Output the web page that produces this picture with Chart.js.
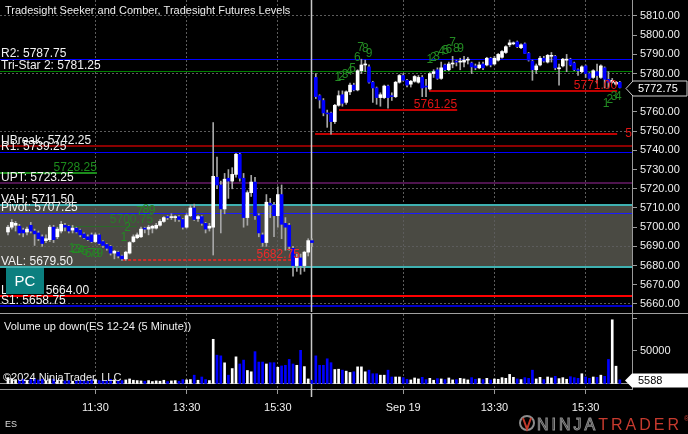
<!DOCTYPE html>
<html>
<head>
<meta charset="utf-8">
<title>ES 12-24 (5 Minute)</title>
<script src="https://cdn.jsdelivr.net/npm/chart.js"></script>
<style>
  html, body { margin: 0; padding: 0; background: #000; }
  #wrap { position: relative; width: 688px; height: 434px; overflow: hidden; background: #000; }
  #priceChart { position: absolute; left: 0; top: 0; }
  #volumeChart { position: absolute; left: 0; top: 313px; }
</style>
</head>
<body>
<div id="wrap">
  <canvas id="priceChart" width="688" height="313"></canvas>
  <canvas id="volumeChart" width="688" height="121"></canvas>
</div>
<script>
const FONT = '"Liberation Sans", Arial, sans-serif';

// 5 minute bars, ES 12-24. Index 0 = 9:35 Sep 18, index 81 = 9:35 Sep 19
const opens = [
  5697.5, 5700, 5701, 5700.5, 5698.5, 5697.5, 5701, 5698, 5697, 5695,
  5693, 5693.5, 5700, 5695, 5698, 5701, 5700.5, 5698.5, 5699.5, 5698.5,
  5696.5, 5695, 5696, 5692.5, 5696, 5692.5, 5691, 5690, 5686.5, 5687,
  5685, 5683.5, 5686.5, 5692.5, 5694.5, 5695, 5699.5, 5699, 5699.5, 5699.5,
  5701, 5703, 5705.5, 5705, 5705, 5705.5, 5704, 5700, 5706, 5710,
  5704.5, 5705.5, 5702, 5699.5, 5700, 5726, 5722, 5709.5, 5725.5, 5724,
  5727.5, 5738, 5725.5, 5705, 5718, 5723.5, 5706, 5696, 5692, 5712.5,
  5711.5, 5706, 5717, 5702, 5701, 5689, 5680, 5684, 5680, 5687,
  5693,
  5778, 5768.5, 5766, 5759.5, 5759.5, 5755, 5763.5, 5769, 5765, 5770.5,
  5774, 5771.5, 5781.5, 5784.5, 5783.5, 5775.5, 5772.5, 5767.5, 5767.5, 5773.5,
  5768.5, 5768, 5775.5, 5779, 5776.5, 5774.5, 5776, 5775.5, 5778, 5773.5,
  5772, 5780, 5782, 5777.5, 5784.5, 5782, 5785, 5786.5, 5786, 5786,
  5787, 5785.5, 5784, 5783, 5785, 5784.5, 5788, 5785, 5787, 5788.5,
  5791, 5795, 5795.5, 5796.5, 5793.5, 5795.5, 5790.5, 5786.5, 5782, 5784.5,
  5788, 5786, 5789, 5789, 5782.5, 5784, 5787, 5787.5, 5785.5, 5782,
  5781, 5784, 5780, 5778, 5781, 5778, 5783, 5777, 5775.5, 5774.5,
  5775.5,
];
const highs = [
  5701, 5704, 5703, 5701.5, 5699.5, 5700, 5702.5, 5699, 5698, 5696,
  5696, 5701, 5701, 5700, 5703, 5702, 5701, 5701, 5700, 5699,
  5697, 5696, 5697, 5697, 5696.5, 5693, 5691.5, 5690.5, 5688, 5687.5,
  5685.5, 5687.5, 5692.5, 5696, 5697, 5700, 5700, 5701, 5701, 5702,
  5704, 5705.5, 5706, 5707, 5706, 5706, 5704.5, 5707, 5711.5, 5712,
  5706, 5706, 5702.5, 5702, 5754.5, 5736.5, 5724, 5728, 5730, 5731,
  5738.5, 5738.5, 5728, 5719, 5727, 5726, 5707, 5697, 5717, 5715,
  5713, 5721, 5722, 5705, 5702, 5690, 5686, 5686, 5687.5, 5694,
  5694,
  5780, 5769, 5767, 5761, 5760, 5764, 5771, 5771, 5771, 5775,
  5775, 5782, 5787.5, 5787, 5784.5, 5776, 5773, 5770, 5774, 5774,
  5770, 5776, 5779.5, 5780, 5777, 5776.5, 5779, 5779, 5779, 5777,
  5780.5, 5782, 5783, 5786, 5785, 5786, 5789, 5787, 5788, 5789,
  5788.5, 5786, 5785, 5786, 5786, 5788.5, 5788.5, 5789, 5790.5, 5792,
  5794.5, 5797.5, 5796.5, 5797, 5795.5, 5796, 5791, 5787, 5785, 5789,
  5789, 5790, 5791, 5789.5, 5785, 5788, 5790, 5788, 5786, 5782.5,
  5784, 5784.5, 5780.5, 5782, 5785, 5784.5, 5783.5, 5781, 5777.5, 5776,
  5776,
];
const lows = [
  5696, 5699, 5698, 5696, 5695, 5696, 5697, 5690.5, 5693, 5690,
  5692, 5692.5, 5692, 5694, 5697, 5698, 5697, 5697, 5697, 5695,
  5694, 5693, 5692, 5692, 5691, 5689.5, 5688, 5685.5, 5683.5, 5684,
  5682.75, 5682.75, 5686, 5692, 5694, 5694.5, 5697, 5696, 5697, 5699,
  5700.5, 5702.5, 5704, 5704, 5703, 5703, 5699, 5699.5, 5705.5, 5703.5,
  5703, 5701, 5697, 5698, 5685.5, 5720, 5697, 5707, 5715, 5720,
  5726, 5724, 5700, 5701, 5716, 5704, 5695, 5690, 5690, 5705,
  5695, 5700, 5694, 5688, 5688, 5674.5, 5677, 5675.5, 5677, 5685,
  5690,
  5767, 5762, 5758, 5752, 5748.5, 5754, 5763, 5763, 5764, 5769,
  5771, 5771, 5780, 5781, 5775, 5765, 5764, 5763, 5767, 5762,
  5766, 5767.5, 5775, 5776, 5773, 5773, 5775.5, 5775, 5768, 5768,
  5771.5, 5778, 5777, 5777, 5781.5, 5781.5, 5783, 5784, 5782, 5783.5,
  5785, 5780, 5782, 5782.5, 5782, 5784, 5783.5, 5784.5, 5786.5, 5788,
  5790.5, 5794, 5795, 5793.5, 5793, 5790.5, 5786.5, 5776.5, 5780, 5784,
  5786, 5785.5, 5786, 5782, 5774, 5783.5, 5781, 5784, 5781.5, 5779,
  5780.5, 5778, 5777, 5777.5, 5775, 5777.5, 5772.5, 5772.5, 5775, 5774,
  5772.5,
];
const closes = [
  5700, 5702.5, 5702, 5697, 5697, 5699, 5698, 5696.5, 5694, 5691.5,
  5694, 5700, 5693.5, 5699, 5701.5, 5700, 5698, 5699.5, 5697.5, 5696,
  5694.5, 5693.5, 5692.5, 5696, 5691.5, 5690.5, 5689, 5686.5, 5687.5, 5685,
  5683.5, 5687, 5692, 5695, 5696, 5699, 5699, 5700, 5700.5, 5701,
  5703, 5705, 5705, 5705.5, 5705.5, 5704, 5700, 5706, 5710, 5704,
  5705.5, 5702, 5699, 5700.5, 5726.5, 5722, 5709.5, 5725, 5724, 5727.5,
  5738, 5725.5, 5705, 5718, 5723.5, 5706, 5697, 5692, 5713, 5711.5,
  5706, 5717, 5701.5, 5700, 5690, 5680, 5684, 5680, 5687, 5693,
  5692,
  5768, 5766.25, 5759.5, 5759, 5755, 5763.5, 5768.5, 5764.5, 5770.5, 5774,
  5771.5, 5781.5, 5784.5, 5785, 5775.5, 5772.5, 5767.5, 5769, 5773.5, 5767.5,
  5768, 5775.5, 5779, 5776.5, 5774, 5776, 5778.5, 5778, 5772.5, 5773,
  5780, 5781, 5777.5, 5783, 5782, 5785, 5785.5, 5786, 5786.5, 5787,
  5787.5, 5783.5, 5783, 5784.5, 5783, 5788, 5784.5, 5788, 5790, 5791.5,
  5794, 5796, 5796, 5794, 5795, 5790.5, 5787, 5782, 5784, 5788,
  5786.5, 5789.5, 5789.5, 5783, 5783, 5787.5, 5787.5, 5784.5, 5782, 5781.5,
  5783.5, 5780, 5777.5, 5781.5, 5779, 5784, 5777, 5775.5, 5776.5, 5775.5,
  5772.75,
];
const volumes = [
  9000, 7500, 6000, 5500, 6500, 5000, 6000, 7000, 5500, 6500,
  4500, 7000, 6500, 5000, 5500, 4000, 4500, 3500, 4000, 5000,
  4500, 3500, 5500, 6000, 4500, 5000, 4000, 6500, 5500, 4000,
  4500, 5500, 7000, 5000, 4500, 4000, 3500, 4500, 3000, 4000,
  3500, 5000, 3000, 4000, 4500, 3500, 6000, 5500, 6000, 12800,
  5000, 10000, 6000, 4500, 68000, 43600, 42500, 31800, 12800, 23000,
  41000, 30000, 36000, 20000, 18000, 49000, 33000, 33000, 30000, 32000,
  32000, 25000, 27000, 28000, 37000, 30000, 28000, 51000, 26000, 7000,
  5000,
  42500, 28000, 28000, 38000, 32000, 21500, 22000, 20500, 19000, 17000,
  18000, 25600, 25600, 18000, 20500, 15000, 15000, 12800, 12800, 20500,
  10000, 10000, 10000, 9000, 6500, 5500, 8500, 7000, 9500, 6000,
  8000, 5000, 7500, 7000, 6000, 8500, 5500, 6000, 8000, 7000,
  5500, 9000, 6500, 7500, 6000, 8000, 5500, 7000, 6500, 9000,
  8000, 14000, 9500, 7000, 6000, 9000, 8000, 20500, 7000, 9500,
  6000, 10000, 8500, 11000, 7500, 9000, 6500, 10500, 9000, 8000,
  15000, 10000, 8000, 10000, 9500, 12800, 11000, 37000, 98000, 26600,
  5588,
];

// axis ticks
const timeTickIndex = [23, 47, 71, 104, 128, 152];
const timeTickLabels = ["11:30", "13:30", "15:30", "Sep 19", "13:30", "15:30"];
const priceTicks = [5660, 5670, 5680, 5690, 5700, 5710, 5720, 5730, 5740, 5750, 5760, 5770, 5780, 5790, 5800, 5810];
const volumeTicks = [50000, 100000];
const sessionBreak = 79.8;
const lastPrice = 5772.75;
const lastVolume = 5588;

// Tradesight futures levels
const levelNames = ["R2", "Tri-Star 2", "UBreak", "R1", "UPT", "VAH", "Pivot", "VAL", "LBreak", "S1"];
const levelValues = [5787.75, 5781.25, 5742.25, 5739.25, 5723.25, 5711.5, 5707.25, 5679.5, 5664.0, 5658.75];

// Seeker / Comber swing levels, with the bars they run between
const swingValues = [5761.25, 5771.0, 5748.5, 5682.75, 5728.25, 5700.75];
const swingFrom = [87.1, 110.8, 80.8, 30.3, -2.1, 13.2];
const swingTo = [118.2, 160.3, 160.3, 76.8, 23.4, 33.9];

// styles (kept apart from the data)
const levelStyle = {
  "R2": { color: "#0000ff", width: 1 },
  "Tri-Star 2": { color: "#008000", width: 1 },
  "UBreak": { color: "#8b0000", width: 2 },
  "R1": { color: "#0000ff", width: 1 },
  "UPT": { color: "#4e144e", width: 2 },
  "VAH": { color: "#3fb1b1", width: 2 },
  "Pivot": { color: "#1a1aff", width: 1 },
  "VAL": { color: "#3fb1b1", width: 2 },
  "LBreak": { color: "#ff0000", width: 2 },
  "S1": { color: "#0000c8", width: 2 },
};
const swingStyle = [
  { line: "#c00000", text: "#e01414", width: 2, dash: [], label: "right" },
  { line: "#c00000", text: "#e01414", width: 2, dash: [], label: "right" },
  { line: "#c00000", text: "#e01414", width: 2, dash: [], label: "after" },
  { line: "#ff2020", text: "#ee2a2a", width: 1.5, dash: [3, 2], label: "right" },
  { line: "#1c8c1c", text: "#1c8c1c", width: 2, dash: [], label: "right" },
  { line: "#2a6a2a", text: "#2a7a2a", width: 1, dash: [], label: "mid" },
];

// Seeker counts [bar, price, digit]
const seekerDigits = [
  [16.8, 5689, "1"], [17.6, 5688.5, "2"], [18.5, 5688.1, "3"], [19.2, 5687.6, "4"], [20.3, 5687.3, "5"],
  [21.1, 5686.4, "6"], [22.2, 5686, "7"], [23.2, 5686, "8"], [24.2, 5686.4, "9"],
  [30.5, 5694.4, "1"], [31.5, 5699.6, "2"], [34.7, 5708, "7"], [36.3, 5709, "8"], [37.9, 5708.5, "9"],
  [86.8, 5777.7, "1"], [87.8, 5778.4, "2"], [88.7, 5779.3, "3"], [89.8, 5781, "4"], [90.7, 5782.8, "5"],
  [91.9, 5788.3, "6"], [92.8, 5793.5, "7"], [94, 5792.8, "8"], [95, 5790.6, "9"],
  [111, 5787, "1"], [111.9, 5788.3, "2"], [112.8, 5788.8, "3"], [114.1, 5791.4, "4"], [115.2, 5791.8, "5"],
  [116, 5792.3, "6"], [117, 5796.3, "7"], [118, 5792.8, "8"], [119.1, 5793.2, "9"],
  [157.4, 5764.5, "1"], [158.4, 5766.25, "2"], [159.5, 5768, "3"], [160.6, 5768, "4"],
];

const X_MIN = -2.1;
const X_MAX = 164.2;
const UP = "#ffffff";
const DOWN = "#0000ff";

Chart.defaults.font.family = FONT;
Chart.defaults.color = "#eeeeee";

const barColors = opens.map((o, i) => (closes[i] >= o ? UP : DOWN));

function hline(ctx, x1, x2, y, color, width, dash) {
  const yy = width % 2 === 1 ? Math.round(y) + 0.5 : Math.round(y);
  ctx.strokeStyle = color;
  ctx.lineWidth = width;
  ctx.setLineDash(dash || []);
  ctx.beginPath();
  ctx.moveTo(x1, yy);
  ctx.lineTo(x2, yy);
  ctx.stroke();
  ctx.setLineDash([]);
}

function text(ctx, s, x, y, color, size, align, baseline) {
  ctx.font = size + "px " + FONT;
  ctx.fillStyle = color;
  ctx.textAlign = align || "left";
  ctx.textBaseline = baseline || "alphabetic";
  ctx.fillText(s, x, y);
}

function clipArea(ctx, a) {
  ctx.beginPath();
  ctx.rect(a.left, a.top, a.right - a.left, a.bottom - a.top);
  ctx.clip();
}

// levels, value area, labels and markers for the price panel
const priceOverlay = {
  id: "priceOverlay",
  beforeDraw(chart) {
    const { ctx, chartArea: a, scales: { y } } = chart;
    const top = y.getPixelForValue(levelValues[levelNames.indexOf("VAH")]);
    const bottom = y.getPixelForValue(levelValues[levelNames.indexOf("VAL")]);
    ctx.save();
    ctx.fillStyle = "#4a4a43";
    ctx.fillRect(a.left, top, a.right - a.left, bottom - top);
    ctx.restore();
  },
  beforeDatasetsDraw(chart) {
    const { ctx, chartArea: a, scales: { x, y } } = chart;
    ctx.save();
    clipArea(ctx, a);
    levelNames.forEach((name, k) => {
      const st = levelStyle[name];
      hline(ctx, a.left, a.right, y.getPixelForValue(levelValues[k]), st.color, st.width);
    });
    swingValues.forEach((v, k) => {
      const st = swingStyle[k];
      hline(ctx, x.getPixelForValue(swingFrom[k]), x.getPixelForValue(swingTo[k]), y.getPixelForValue(v), st.line, st.width, st.dash);
    });
    // session break
    const sx = Math.round(x.getPixelForValue(sessionBreak)) + 0.5;
    ctx.strokeStyle = "#c8c8c8";
    ctx.lineWidth = 1.5;
    ctx.beginPath();
    ctx.moveTo(sx, a.top);
    ctx.lineTo(sx, a.bottom);
    ctx.stroke();
    ctx.restore();
  },
  afterDatasetsDraw(chart) {
    const { ctx, chartArea: a, scales: { x, y } } = chart;
    ctx.save();
    clipArea(ctx, a);
    // level labels sit on top of their lines
    levelNames.forEach((name, k) => {
      const py = y.getPixelForValue(levelValues[k]);
      text(ctx, name + ": " + levelValues[k].toFixed(2), a.left + 1, py - 2, "#f2f2f2", 12);
    });
    swingValues.forEach((v, k) => {
      const st = swingStyle[k];
      const py = y.getPixelForValue(v);
      if (st.label === "right") {
        text(ctx, v.toFixed(2), x.getPixelForValue(swingTo[k]), py - 2, st.text, 12, "right");
      } else if (st.label === "after") {
        text(ctx, v.toFixed(2), x.getPixelForValue(swingTo[k]) + 8, py, st.text, 12, "left", "middle");
      } else {
        text(ctx, v.toFixed(2), x.getPixelForValue(26.8), py - 3, st.text, 12, "left");
      }
    });
    seekerDigits.forEach(([i, p, d]) => {
      text(ctx, d, x.getPixelForValue(i), y.getPixelForValue(p), "#238a23", 12, "center", "middle");
    });
    // PC box
    ctx.fillStyle = "#0b7f7f";
    ctx.fillRect(6, 268, 38, 26);
    text(ctx, "PC", 25, 282, "#ffffff", 15, "center", "middle");
    ctx.restore();
  },
  afterDraw(chart) {
    const { ctx, scales: { y } } = chart;
    ctx.save();
    text(ctx, "Tradesight Seeker and Comber, Tradesight Futures Levels", 5, 14, "#eeeeee", 11);
    // last price marker
    const yc = Math.round(y.getPixelForValue(lastPrice)) + 0.5;
    ctx.beginPath();
    ctx.moveTo(626, yc);
    ctx.lineTo(633, yc - 7.5);
    ctx.lineTo(687, yc - 7.5);
    ctx.lineTo(687, yc + 7.5);
    ctx.lineTo(633, yc + 7.5);
    ctx.closePath();
    ctx.fillStyle = "#000000";
    ctx.fill();
    ctx.strokeStyle = "#d0d0d0";
    ctx.lineWidth = 1;
    ctx.stroke();
    text(ctx, lastPrice.toFixed(2), 638, yc + 0.5, "#ffffff", 11, "left", "middle");
    ctx.restore();
  },
};

// volume panel texts, last volume marker and footer
const volumeOverlay = {
  id: "volumeOverlay",
  beforeDatasetsDraw(chart) {
    const { ctx, chartArea: a, scales: { x, y } } = chart;
    ctx.save();
    hline(ctx, a.left, a.right, y.getPixelForValue(0), "#9a9a9a", 1);
    const sx = Math.round(x.getPixelForValue(sessionBreak)) + 0.5;
    ctx.strokeStyle = "#c8c8c8";
    ctx.lineWidth = 1.5;
    ctx.beginPath();
    ctx.moveTo(sx, a.top);
    ctx.lineTo(sx, a.bottom + 8);
    ctx.stroke();
    ctx.restore();
  },
  afterDatasetsDraw(chart) {
    const { ctx, chartArea: a } = chart;
    ctx.save();
    text(ctx, "Volume up down(ES 12-24 (5 Minute))", 4, a.top + 16, "#eeeeee", 11);
    text(ctx, "\u00a92024 NinjaTrader, LLC", 3, a.top + 67, "#eeeeee", 11);
    ctx.restore();
  },
  afterDraw(chart) {
    const { ctx, scales: { y } } = chart;
    ctx.save();
    // panel separator
    hline(ctx, 0, 688, 0, "#a0a0a0", 1);
    // last volume marker
    const yc = Math.round(y.getPixelForValue(lastVolume)) + 0.5;
    ctx.beginPath();
    ctx.moveTo(625, yc);
    ctx.lineTo(632, yc - 7);
    ctx.lineTo(688, yc - 7);
    ctx.lineTo(688, yc + 7);
    ctx.lineTo(632, yc + 7);
    ctx.closePath();
    ctx.fillStyle = "#ffffff";
    ctx.fill();
    text(ctx, String(lastVolume), 638, yc + 0.5, "#000000", 11, "left", "middle");
    // footer
    text(ctx, "ES", 5, 114, "#dddddd", 9);
    ctx.strokeStyle = "#8c8c8c";
    ctx.lineWidth = 2;
    ctx.beginPath();
    ctx.arc(527, 110, 7, 0, Math.PI * 2);
    ctx.stroke();
    ctx.strokeStyle = "#c0392b";
    ctx.beginPath();
    ctx.moveTo(523, 105);
    ctx.lineTo(527, 116);
    ctx.lineTo(531, 105);
    ctx.stroke();
    ctx.font = "16px " + FONT;
    ctx.letterSpacing = "3px";
    ctx.textAlign = "left";
    ctx.textBaseline = "alphabetic";
    ctx.strokeStyle = "#8c8c8c";
    ctx.lineWidth = 1;
    ctx.strokeText("NINJA", 537, 117);
    const w = ctx.measureText("NINJA").width;
    ctx.fillStyle = "#c63a2e";
    ctx.fillText("TRADER", 537 + w, 117);
    ctx.letterSpacing = "0px";
    text(ctx, "\u00ae", 684, 108, "#c63a2e", 7);
    ctx.restore();
  },
};

function fixWidth(scale) {
  scale.width = 56;
  scale.paddingTop = 0;
  scale.paddingBottom = 0;
}

const timeGrid = {
  color: "#5c5c5c",
  tickColor: "#9a9a9a",
  tickLength: 5,
  offset: false,
};

const priceChart = new Chart(document.getElementById("priceChart"), {
  type: "bar",
  data: {
    datasets: [
      {
        label: "body",
        data: opens.map((o, i) => ({ x: i, y: [o, closes[i]] })),
        backgroundColor: barColors,
        barThickness: 3,
        minBarLength: 1,
        grouped: false,
      },
      {
        label: "wick",
        data: lows.map((l, i) => ({ x: i, y: [l, highs[i]] })),
        backgroundColor: "#a6a6a6",
        barThickness: 1,
        grouped: false,
      },
    ],
  },
  options: {
    responsive: false,
    animation: false,
    devicePixelRatio: 1,
    layout: { padding: { left: 0, right: 0, top: 0, bottom: 1 } },
    plugins: { legend: { display: false }, tooltip: { enabled: false } },
    scales: {
      x: {
        type: "linear",
        min: X_MIN,
        max: X_MAX,
        offset: false,
        afterBuildTicks: (s) => { s.ticks = timeTickIndex.map((v) => ({ value: v })); },
        afterFit: (s) => { s.height = 0; s.paddingLeft = 0; s.paddingRight = 0; },
        ticks: { display: false },
        grid: { color: "#5c5c5c", drawTicks: false, offset: false },
        border: { display: false, dash: [2, 2] },
      },
      y: {
        position: "right",
        min: 5655.83,
        max: 5818.33,
        afterBuildTicks: (s) => { s.ticks = priceTicks.map((v) => ({ value: v })); },
        afterFit: fixWidth,
        ticks: {
          color: "#f0f0f0",
          font: { size: 11 },
          padding: 3,
          callback: (v) => v.toFixed(2),
        },
        grid: {
          color: (c) => (c.tick && (c.tick.value - 5660) % 30 === 0 ? "#5c5c5c" : "rgba(0,0,0,0)"),
          tickColor: "#9a9a9a",
          tickLength: 5,
        },
        border: { display: true, color: "#9a9a9a", dash: [2, 2] },
      },
    },
  },
  plugins: [priceOverlay],
});

const volumeChart = new Chart(document.getElementById("volumeChart"), {
  type: "bar",
  data: {
    datasets: [
      {
        label: "Volume",
        data: volumes.map((v, i) => ({ x: i, y: v })),
        backgroundColor: barColors,
        barThickness: 2,
        grouped: false,
      },
    ],
  },
  options: {
    responsive: false,
    animation: false,
    devicePixelRatio: 1,
    layout: { padding: { left: 0, right: 0, top: 1, bottom: 14 } },
    plugins: { legend: { display: false }, tooltip: { enabled: false } },
    scales: {
      x: {
        type: "linear",
        min: X_MIN,
        max: X_MAX,
        offset: false,
        afterBuildTicks: (s) => { s.ticks = timeTickIndex.map((v) => ({ value: v })); },
        afterFit: (s) => { s.height = 31; s.paddingLeft = 0; s.paddingRight = 0; },
        ticks: {
          color: "#f0f0f0",
          font: { size: 11 },
          padding: 7,
          autoSkip: false,
          maxRotation: 0,
          callback: (v) => timeTickLabels[timeTickIndex.indexOf(v)],
        },
        grid: timeGrid,
        border: { display: true, color: "#9a9a9a", dash: [2, 2] },
      },
      y: {
        position: "right",
        min: -8460,
        max: 106900,
        afterBuildTicks: (s) => { s.ticks = volumeTicks.map((v) => ({ value: v })); },
        afterFit: fixWidth,
        ticks: {
          color: "#f0f0f0",
          font: { size: 11 },
          padding: 3,
          callback: (v) => (v === 50000 ? "50000" : ""),
        },
        grid: { drawOnChartArea: false, tickColor: "#9a9a9a", tickLength: 5 },
        border: { display: true, color: "#9a9a9a" },
      },
    },
  },
  plugins: [volumeOverlay],
});
</script>
</body>
</html>
